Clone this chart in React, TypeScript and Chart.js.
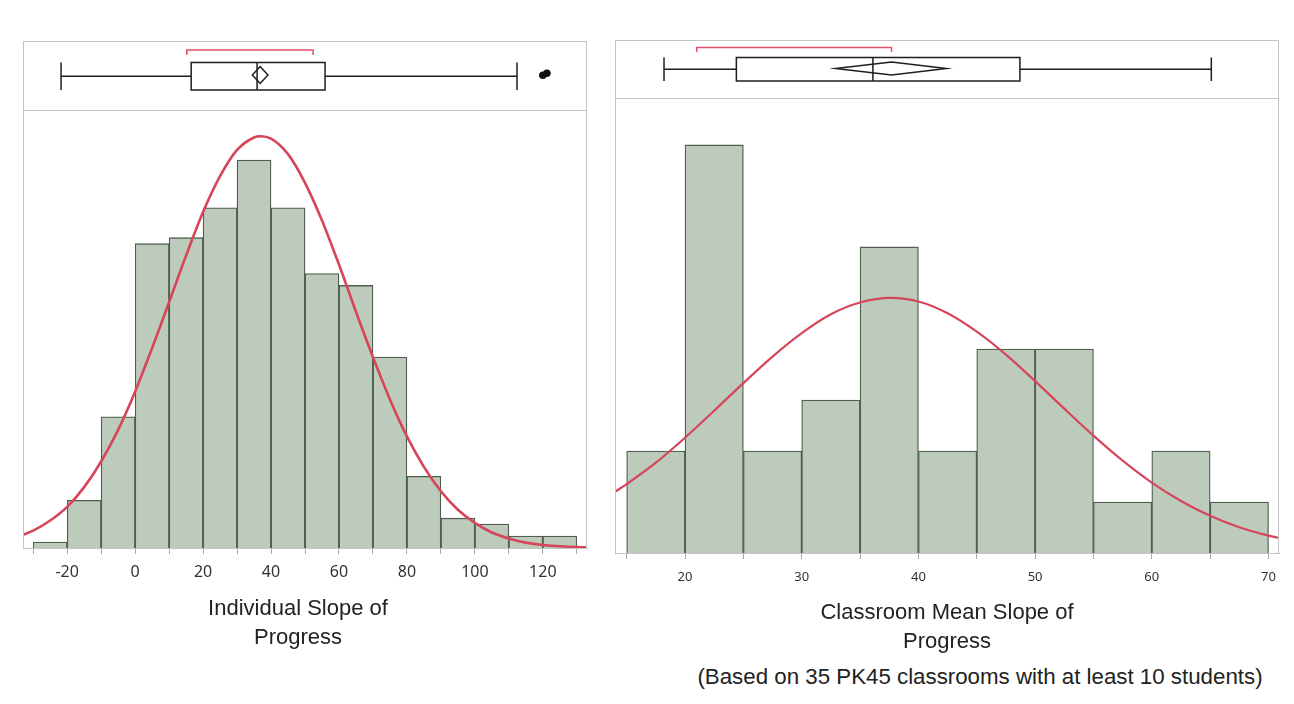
import React, { useEffect, useRef } from 'react';
import { Chart, registerables } from 'chart.js';

Chart.register(...registerables);

// ---------- Left panel: Individual Slope of Progress ----------
const leftBinCenters = [-25, -15, -5, 5, 15, 25, 35, 45, 55, 65, 75, 85, 95, 105, 115, 125];
const leftCounts = [1, 8, 22, 51, 52, 57, 65, 57, 46, 44, 32, 12, 5, 4, 2, 2];
const leftCurveX = [-33, -30, -25, -20, -15, -10, -5, 0, 5, 10, 15, 20, 25, 30, 35, 37, 40, 45, 50, 55, 60, 65, 70, 75, 80, 85, 90, 95, 100, 105, 110, 115, 120, 125, 130, 133];
const leftCurveY = [2.2, 2.9, 4.6, 6.9, 10.2, 14.5, 19.8, 26.2, 33.5, 41.2, 49.0, 56.3, 62.3, 66.7, 68.8, 69.0, 68.6, 66.0, 61.2, 54.9, 47.5, 39.6, 32.0, 24.9, 18.7, 13.6, 9.5, 6.4, 4.2, 2.6, 1.6, 0.9, 0.5, 0.3, 0.15, 0.1];
const leftBoxStats = [-21.8, 16.5, 35.9, 55.9, 112.4]; // min, q1, median, q3, max
const leftMeanDiamond = [34.5, 36.8, 39.1];
const leftShortestHalf = [15.2, 52.4];
const leftOutliers = [120, 121.2];
const leftXRange = [-33, 133];
const leftYMax = 73.4;

// ---------- Right panel: Classroom Mean Slope of Progress ----------
const rightBinCenters = [17.5, 22.5, 27.5, 32.5, 37.5, 42.5, 47.5, 52.5, 57.5, 62.5, 67.5];
const rightCounts = [2, 8, 2, 3, 6, 2, 4, 4, 1, 2, 1];
const rightCurveX = [14, 15, 17.5, 20, 22.5, 25, 27.5, 30, 32.5, 35, 37.6, 40, 42.5, 45, 47.5, 50, 52.5, 55, 57.5, 60, 62.5, 65, 67.5, 70, 71];
const rightCurveY = [1.2, 1.35, 1.77, 2.26, 2.79, 3.33, 3.85, 4.31, 4.68, 4.91, 5.0, 4.93, 4.70, 4.34, 3.89, 3.37, 2.83, 2.30, 1.81, 1.38, 1.02, 0.73, 0.505, 0.34, 0.29];
const rightBoxStats = [18.2, 24.4, 36.1, 48.7, 65.1];
const rightMeanDiamond = [32.9, 37.7, 42.4];
const rightShortestHalf = [21.0, 37.7];
const rightOutliers: number[] = [];
const rightXRange = [14, 70.9];
const rightYMax = 8.92;

const BAR_FILL = '#bccbbb';
const BAR_EDGE = '#4f5e4f';
const CURVE = '#d7455a';
const BRACKET = '#e2506a';
const FRAME = '#c4c4c4';

const boxPlugin = {
  id: 'jmpBox',
  afterDraw(chart: any, _args: any, opts: any) {
    const { ctx, chartArea } = chart;
    const x = chart.scales.x;
    const px = (v: number) => x.getPixelForValue(v);
    ctx.save();
    // frame + divider
    ctx.strokeStyle = FRAME;
    ctx.lineWidth = 1;
    ctx.strokeRect(chartArea.left + 0.5, opts.frameTop + 0.5, chartArea.right - chartArea.left - 1, chartArea.bottom - opts.frameTop);
    ctx.beginPath();
    ctx.moveTo(chartArea.left, chartArea.top + 0.5);
    ctx.lineTo(chartArea.right, chartArea.top + 0.5);
    ctx.stroke();

    const [mn, q1, med, q3, mx] = opts.stats;
    const cy = (opts.boxTop + opts.boxBottom) / 2;
    ctx.strokeStyle = '#1e1e1e';
    ctx.lineWidth = 1.5;
    ctx.beginPath();
    // whiskers
    ctx.moveTo(px(mn), cy); ctx.lineTo(px(q1), cy);
    ctx.moveTo(px(q3), cy); ctx.lineTo(px(mx), cy);
    // caps
    ctx.moveTo(px(mn), opts.boxTop); ctx.lineTo(px(mn), opts.boxBottom);
    ctx.moveTo(px(mx), opts.boxTop); ctx.lineTo(px(mx), opts.boxBottom);
    // median
    ctx.moveTo(px(med), opts.boxTop); ctx.lineTo(px(med), opts.boxBottom);
    ctx.stroke();
    ctx.strokeRect(px(q1), opts.boxTop, px(q3) - px(q1), opts.boxBottom - opts.boxTop);
    // mean diamond
    const [d0, dm, d1] = opts.mean;
    const dy = opts.diamondY;
    const hh = opts.diamondHalfH;
    ctx.beginPath();
    ctx.moveTo(px(d0), dy);
    ctx.lineTo(px(dm), dy - hh);
    ctx.lineTo(px(d1), dy);
    ctx.lineTo(px(dm), dy + hh);
    ctx.closePath();
    ctx.stroke();
    // outliers
    ctx.fillStyle = '#111';
    opts.outliers.forEach((o: number, i: number) => {
      ctx.beginPath();
      ctx.arc(px(o), cy - 1 - i * 2, 3.8, 0, Math.PI * 2);
      ctx.fill();
    });
    // shortest half bracket
    const [h0, h1] = opts.half;
    ctx.strokeStyle = BRACKET;
    ctx.lineWidth = 1.5;
    ctx.beginPath();
    ctx.moveTo(px(h0), opts.bracketY + opts.bracketTick);
    ctx.lineTo(px(h0), opts.bracketY);
    ctx.lineTo(px(h1), opts.bracketY);
    ctx.lineTo(px(h1), opts.bracketY + opts.bracketTick);
    ctx.stroke();
    ctx.restore();
  },
};

function makeConfig(p: any) {
  return {
    type: 'bar',
    data: {
      datasets: [
        {
          type: 'line',
          data: p.curveX.map((v: number, i: number) => ({ x: v, y: p.curveY[i] })),
          borderColor: CURVE,
          borderWidth: p.curveWidth,
          pointRadius: 0,
          cubicInterpolationMode: 'monotone',
          fill: false,
          order: 0,
        },
        {
          type: 'bar',
          data: p.centers.map((v: number, i: number) => ({ x: v, y: p.counts[i] })),
          backgroundColor: BAR_FILL,
          borderColor: BAR_EDGE,
          borderWidth: 1.3,
          borderSkipped: 'bottom',
          barPercentage: 1,
          categoryPercentage: 1,
          order: 1,
        },
      ],
    },
    options: {
      responsive: false,
      animation: false,
      events: [],
      layout: { padding: p.padding },
      plugins: {
        legend: { display: false },
        tooltip: { enabled: false },
        jmpBox: p.box,
      },
      scales: {
        x: {
          type: 'linear',
          min: p.xRange[0],
          max: p.xRange[1],
          offset: false,
          afterFit: (scale: any) => { scale.height = 40; },
          grid: { display: true, offset: false, drawOnChartArea: false, drawTicks: true, tickLength: 6, color: '#a8a8a8' },
          border: { display: true, color: FRAME },
          ticks: {
            stepSize: p.step,
            includeBounds: false,
            autoSkip: false,
            maxRotation: 0,
            padding: p.tickPad,
            color: '#333',
            font: { family: '"Noto Sans", "Open Sans", sans-serif', size: p.tickSize },
            callback: (v: number) => (Math.round(v) % p.labelEvery === 0 ? String(Math.round(v)) : ''),
          },
        },
        y: { display: false, min: 0, max: p.yMax },
      },
    },
    plugins: [boxPlugin],
  };
}

function Hist({ left, width, height, params }: any) {
  const ref = useRef<HTMLCanvasElement>(null);
  useEffect(() => {
    const chart = new Chart(ref.current as HTMLCanvasElement, makeConfig(params) as any);
    return () => chart.destroy();
  }, []);
  return (
    <canvas
      ref={ref}
      width={width}
      height={height}
      style={{ position: 'absolute', left, top: 0, width, height }}
    />
  );
}

const leftParams = {
  centers: leftBinCenters, counts: leftCounts, curveX: leftCurveX, curveY: leftCurveY,
  xRange: leftXRange, yMax: leftYMax, step: 10, labelEvery: 20, tickSize: 16, tickPad: 9, curveWidth: 2.6,
  padding: { left: 23, right: 13, top: 110, bottom: 12 },
  box: {
    stats: leftBoxStats, mean: leftMeanDiamond, half: leftShortestHalf, outliers: leftOutliers,
    frameTop: 41, boxTop: 62.5, boxBottom: 90, diamondY: 75, diamondHalfH: 8.5, bracketY: 50, bracketTick: 5,
  },
};

const rightParams = {
  centers: rightBinCenters, counts: rightCounts, curveX: rightCurveX, curveY: rightCurveY,
  xRange: rightXRange, yMax: rightYMax, step: 5, labelEvery: 10, tickSize: 13, tickPad: 10, curveWidth: 2.2,
  padding: { left: 15, right: 15, top: 98, bottom: 7 },
  box: {
    stats: rightBoxStats, mean: rightMeanDiamond, half: rightShortestHalf, outliers: rightOutliers,
    frameTop: 40, boxTop: 57.5, boxBottom: 81, diamondY: 68.5, diamondHalfH: 6.5, bracketY: 47.5, bracketTick: 4.5,
  },
};

const labelFont = '22px "Liberation Sans", Arial, sans-serif';

export default function App() {
  return (
    <div style={{ position: 'absolute', left: 0, top: 0, width: 1294, height: 704, background: '#fff', overflow: 'hidden' }}>
      <Hist left={0} width={600} height={600} params={leftParams} />
      <Hist left={600} width={694} height={600} params={rightParams} />
      <div style={{ position: 'absolute', left: 148, top: 593, width: 300, textAlign: 'center', font: labelFont, lineHeight: '29px', color: '#222' }}>
        Individual Slope of<br />Progress
      </div>
      <div style={{ position: 'absolute', left: 747, top: 597, width: 400, textAlign: 'center', font: labelFont, lineHeight: '29px', color: '#222' }}>
        Classroom Mean Slope of<br />Progress
      </div>
      <div style={{ position: 'absolute', left: 630, top: 662, width: 700, textAlign: 'center', font: '22.3px "Liberation Sans", Arial, sans-serif', lineHeight: '29px', color: '#222' }}>
        (Based on 35 PK45 classrooms with at least 10 students)
      </div>
    </div>
  );
}
